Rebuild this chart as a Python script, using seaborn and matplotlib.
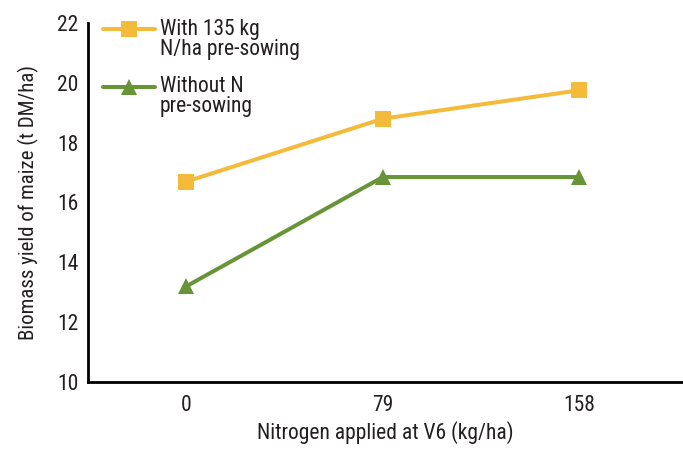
import matplotlib
matplotlib.use("Agg")
import matplotlib.pyplot as plt
from matplotlib.offsetbox import DrawingArea
from matplotlib.lines import Line2D
import seaborn as sns
import pandas as pd

# Biomass yield of maize by N rate at V6
n_rates = ["0", "79", "158"]
with_presowing = [16.7, 18.8, 19.75]
without_presowing = [13.2, 16.85, 16.85]
series_names = ["With 135 kg\nN/ha pre-sowing", "Without N\npre-sowing"]
colors = ["#F4BB3A", "#679437"]
y_ticks = [10, 12, 14, 16, 18, 20, 22]

sns.set_theme(style="white")
plt.rcParams["font.family"] = ["Roboto Condensed", "DejaVu Sans"]
text_color = "#231F20"
fs = 15.5

df = pd.DataFrame({
    "rate": n_rates * 2,
    "yield": with_presowing + without_presowing,
    "series": [series_names[0]] * 3 + [series_names[1]] * 3,
})

fig = plt.figure(figsize=(6.83, 4.5), dpi=100)
ax = fig.add_axes([0.129, 0.151, 0.871, 0.798])

sns.lineplot(data=df, x="rate", y="yield", hue="series", style="series",
             markers=["s", "^"], dashes=False, palette=colors,
             linewidth=2.9, markersize=11.5, markeredgewidth=0, ax=ax)

ax.set_xlim(-0.5, 2.528)
ax.set_ylim(10, 22)
ax.set_yticks(y_ticks)
ax.set_xticks(range(len(n_rates)))
ax.set_xticklabels(n_rates)
ax.tick_params(axis="both", length=0, labelsize=fs, colors=text_color)
ax.tick_params(axis="y", pad=7)
ax.tick_params(axis="x", pad=9)
ax.set_xlabel("Nitrogen applied at V6 (kg/ha)", fontsize=fs, color=text_color, labelpad=4)
ax.set_ylabel("Biomass yield of maize (t DM/ha)", fontsize=15, color=text_color, labelpad=13)

for side in ["top", "right"]:
    ax.spines[side].set_visible(False)
for side in ["left", "bottom"]:
    ax.spines[side].set_color("black")
    ax.spines[side].set_linewidth(2)

leg = ax.legend(loc="upper left", bbox_to_anchor=(0.025, 1.012), frameon=False,
                fontsize=fs, handlelength=2.4, handletextpad=0.25,
                labelspacing=0.75, borderpad=0, borderaxespad=0)
for t in leg.get_texts():
    t.set_linespacing(0.95)
    t.set_color(text_color)

# Align each legend key with the first line of its two-line label
for da in leg.findobj(DrawingArea):
    for child in da.get_children():
        if isinstance(child, Line2D):
            child.set_ydata([y + 7.5 for y in child.get_ydata()])

fig.savefig("out.png", dpi=100)
